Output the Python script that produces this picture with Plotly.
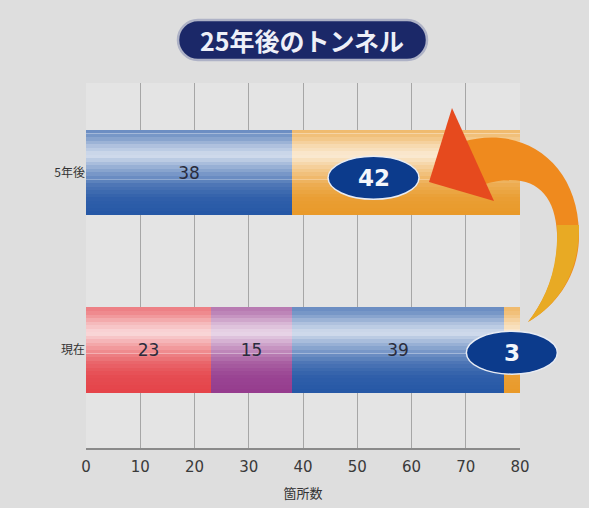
import numpy as np
import plotly.graph_objects as go

# ---------------- data ----------------
categories = ["現在", "5年後"]
cat_pos = [0, 1]
seg_red = [23, 0]
seg_purple = [15, 0]
seg_blue = [39, 38]
seg_orange = [3, 42]
x_ticks = [0, 10, 20, 30, 40, 50, 60, 70, 80]
title_text = "25年後のトンネル"
x_title = "箇所数"

# ---------------- layout constants ----------------
W, H = 589, 508
ML, MR, MT, MB = 86, 69, 83, 60
XR = [0, 80]
YR = [-0.552, 1.504]
BW = 0.479

segments = [
    (seg_red, "#e5444a", True),
    (seg_purple, "#963c8e", True),
    (seg_blue, "#2658a6", True),
    (seg_orange, "#e99a2a", False),
]

# gloss profile: (fraction from top, white opacity)
gloss = [(0.0, 0.30), (0.08, 0.40), (0.18, 0.62), (0.30, 0.80), (0.40, 0.60),
         (0.52, 0.38), (0.65, 0.18), (0.80, 0.05), (1.0, 0.0)]
NB = 24

fig = go.Figure()
base = np.zeros(len(categories))
bases = []
for vals, color, show in segments:
    vals = np.array(vals, dtype=float)
    bases.append(base.copy())
    fig.add_trace(go.Bar(
        y=cat_pos, x=vals, base=base, orientation="h", width=BW,
        marker=dict(color=color, line=dict(width=0)),
        hoverinfo="skip", showlegend=False,
    ))
    top = BW / 2
    fs = [g[0] for g in gloss]
    os_ = [g[1] for g in gloss]
    for i in range(NB):
        f0, f1 = i / NB, (i + 1) / NB
        op = float(np.interp((f0 + f1) / 2, fs, os_))
        if op <= 0.005:
            continue
        fig.add_trace(go.Bar(
            y=cat_pos, x=vals, base=base, orientation="h",
            width=BW * (f1 - f0) * 1.02, offset=top - BW * f1,
            marker=dict(color=f"rgba(255,255,255,{op:.3f})", line=dict(width=0)),
            hoverinfo="skip", showlegend=False,
        ))
    base = base + vals

# value labels on top (transparent bars carrying the text)
for (vals, color, show), b in zip(segments, bases):
    vals = np.array(vals, dtype=float)
    texts = [str(int(v)) if (show and v > 0) else "" for v in vals]
    fig.add_trace(go.Bar(
        y=cat_pos, x=vals, base=b, orientation="h", width=BW,
        marker=dict(color="rgba(0,0,0,0)", line=dict(width=0)),
        text=texts, textposition="inside", insidetextanchor="middle",
        textfont=dict(size=17, color="#2a2c3c", family="DejaVu Sans"),
        constraintext="none", hoverinfo="skip", showlegend=False,
    ))

fig.update_layout(
    width=W, height=H,
    margin=dict(l=ML, r=MR, t=MT, b=MB, autoexpand=False),
    paper_bgcolor="#dedede", plot_bgcolor="#e4e4e4",
    barmode="overlay", bargap=0,
    font=dict(family="Noto Sans CJK JP", color="#333333"),
    xaxis=dict(range=XR, tickvals=x_ticks, showgrid=True, gridcolor="#a6a6a6",
               gridwidth=1.2, zeroline=False, showline=True, linecolor="#8a8a8a",
               linewidth=2, ticks="", ticklabelstandoff=4, automargin=False,
               tickfont=dict(size=15, color="#3a3a3a", family="DejaVu Sans"),
               title=dict(text=x_title, font=dict(size=13, color="#333"), standoff=14)),
    yaxis=dict(range=YR, tickvals=cat_pos, ticktext=categories, showgrid=False,
               zeroline=False, showline=False, ticks="", automargin=False,
               tickfont=dict(size=12, color="#333")),
)

def px2p(px, py):
    return (px - ML) / (W - ML - MR), (H - MB - py) / (H - MT - MB)

# title pill
x0, yt = px2p(178, 20)
x1, yb = px2p(427, 60)
ym = (yt + yb) / 2
rx = (yt - yb) / 2 * (H - MT - MB) / (W - ML - MR)
pill = (f"M {x0+rx},{yt} L {x1-rx},{yt} C {x1-rx*0.45},{yt} {x1},{yt-(yt-ym)*0.45} {x1},{ym} "
        f"C {x1},{yb+(yt-ym)*0.45} {x1-rx*0.45},{yb} {x1-rx},{yb} L {x0+rx},{yb} "
        f"C {x0+rx*0.45},{yb} {x0},{yb+(yt-ym)*0.45} {x0},{ym} "
        f"C {x0},{yt-(yt-ym)*0.45} {x0+rx*0.45},{yt} {x0+rx},{yt} Z")
fig.add_shape(type="path", xref="paper", yref="paper", path=pill,
              fillcolor="#1b2868", line=dict(color="#aeb2c6", width=2.5), layer="above")
tx, ty = px2p(302, 40)
fig.add_annotation(xref="paper", yref="paper", x=tx, y=ty, xanchor="center", yanchor="middle",
                   text=f"<b>{title_text}</b>", showarrow=False,
                   font=dict(size=25, color="#eef0f8", family="Noto Sans CJK JP"))

# curved arrow (decoration)
def P(px, py):
    a, b = px2p(px, py)
    return f"{a},{b}"

body = (f"M {P(462,142)} C {P(520,124)} {P(578,160)} {P(579,233)} "
        f"C {P(580,275)} {P(556,306)} {P(528,322)} "
        f"C {P(545,300)} {P(559,270)} {P(557,233)} "
        f"C {P(555,190)} {P(530,170)} {P(482,185)} Z")
fig.add_shape(type="path", xref="paper", yref="paper", path=body,
              fillcolor="#ef8a1e", line=dict(width=0), layer="above")
lower = (f"M {P(579,225)} C {P(580,275)} {P(556,306)} {P(528,322)} "
         f"C {P(545,300)} {P(559,270)} {P(557,225)} Z")
fig.add_shape(type="path", xref="paper", yref="paper", path=lower,
              fillcolor="#e8aa24", line=dict(width=0), layer="above")
head = f"M {P(429,182)} L {P(452,108)} L {P(494,201)} Z"
fig.add_shape(type="path", xref="paper", yref="paper", path=head,
              fillcolor="#e64a1e", line=dict(width=0), layer="above")

# value bubbles
def d2p(xv, yv):
    return (xv - XR[0]) / (XR[1] - XR[0]), (yv - YR[0]) / (YR[1] - YR[0])

bubbles = [
    (seg_blue[1] + 15, cat_pos[1] - 0.03, seg_orange[1]),
    (seg_red[0] + seg_purple[0] + seg_blue[0] + seg_orange[0] / 2, cat_pos[0] - 0.015, seg_orange[0]),
]
bw = 91 / (W - ML - MR)
bh = 43 / (H - MT - MB)
for xv, yv, val in bubbles:
    cx, cy = d2p(xv, yv)
    fig.add_shape(type="circle", xref="paper", yref="paper",
                  x0=cx - bw / 2, x1=cx + bw / 2, y0=cy - bh / 2, y1=cy + bh / 2,
                  fillcolor="#0c3b8c", line=dict(color="#e8ecf4", width=1.5), layer="above")
    fig.add_annotation(xref="paper", yref="paper", x=cx, y=cy, xanchor="center", yanchor="middle",
                       text=f"<b>{val}</b>", showarrow=False,
                       font=dict(size=23, color="#f4f6fb", family="DejaVu Sans"))

fig.write_html("out.html")
